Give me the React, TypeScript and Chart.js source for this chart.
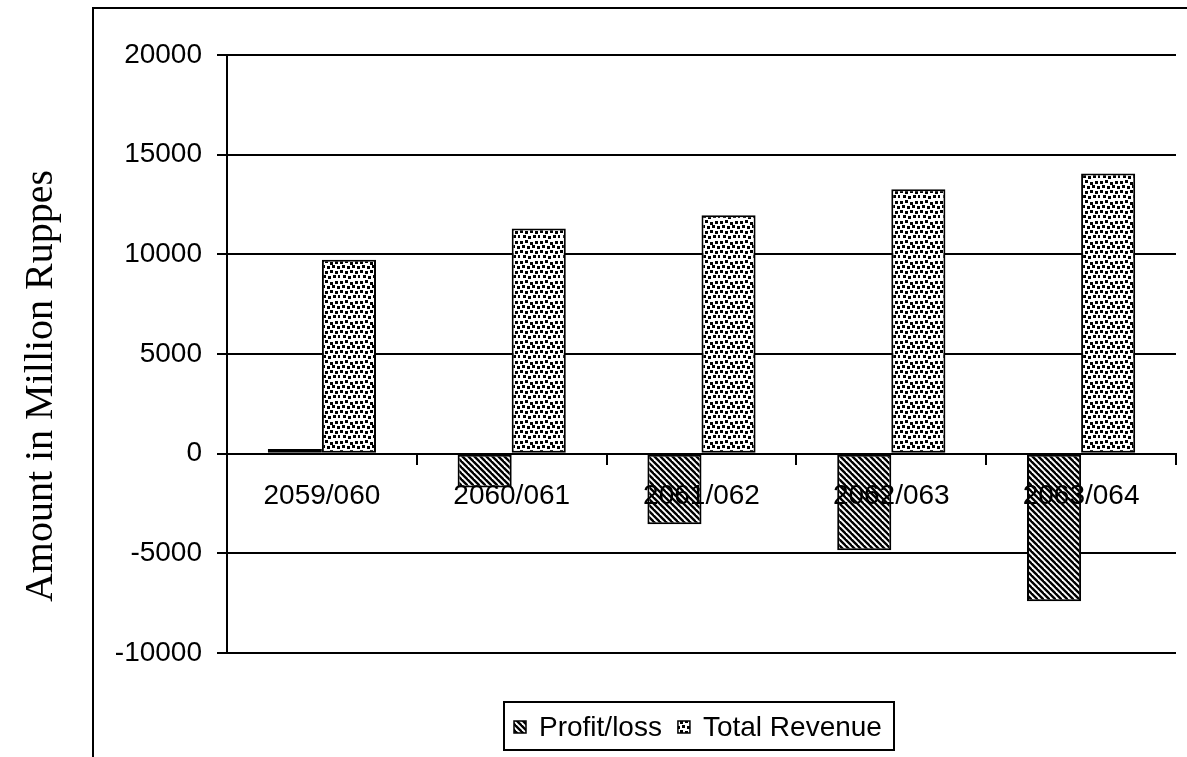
import React, { useEffect, useRef } from "react";
import { Chart, registerables } from "chart.js";

Chart.register(...registerables);

// Fiscal years and amounts (million rupees)
const categories = ["2059/060", "2060/061", "2061/062", "2062/063", "2063/064"];
const profitLoss = [240, -1700, -3540, -4840, -7400];
const totalRevenue = [9730, 11290, 11960, 13270, 14050];
const seriesNames = ["Profit/loss", "Total Revenue"];
const yMin = -10000;
const yMax = 20000;
const yStep = 5000;
const yTitle = "Amount in Million Ruppes";

const SANS = '"Liberation Sans", Arial, sans-serif';
const SERIF = '"Liberation Serif", "Times New Roman", serif';

// Diagonal "\" hatch used for the profit/loss bars
function makeStripePattern(ctx: CanvasRenderingContext2D): CanvasPattern {
  const size = 6;
  const tile = document.createElement("canvas");
  tile.width = size;
  tile.height = size;
  const t = tile.getContext("2d")!;
  t.fillStyle = "#fff";
  t.fillRect(0, 0, size, size);
  t.strokeStyle = "#000";
  t.lineWidth = 2.4;
  for (let k = -1; k <= 1; k++) {
    t.beginPath();
    t.moveTo(k * size - 1, -1);
    t.lineTo(k * size + size + 1, size + 1);
    t.stroke();
  }
  return ctx.createPattern(tile, "repeat")!;
}

// Speckled fill used for the revenue bars (fixed dot layout in a tile)
const DOTS: [number, number][] = [
  [0, 1], [5, 0], [10, 2], [15, 1],
  [2, 5], [7, 6], [12, 5], [17, 6],
  [0, 10], [5, 11], [10, 10], [15, 11],
  [3, 15], [8, 16], [13, 15], [18, 15],
];
function makeDotPattern(ctx: CanvasRenderingContext2D): CanvasPattern {
  const size = 20;
  const tile = document.createElement("canvas");
  tile.width = size;
  tile.height = size;
  const t = tile.getContext("2d")!;
  t.fillStyle = "#fff";
  t.fillRect(0, 0, size, size);
  t.fillStyle = "#000";
  for (const [x, y] of DOTS) t.fillRect(x, y, 3, 3);
  return ctx.createPattern(tile, "repeat")!;
}

const framePlugin = {
  id: "frameAndLegend",
  beforeDraw(chart: any) {
    const { ctx, width, height } = chart;
    ctx.save();
    ctx.fillStyle = "#fff";
    ctx.fillRect(0, 0, width, height);
    ctx.restore();
  },
  afterDraw(chart: any) {
    const ctx: CanvasRenderingContext2D = chart.ctx;
    ctx.save();
    // outer frame
    ctx.strokeStyle = "#000";
    ctx.lineWidth = 2;
    ctx.beginPath();
    ctx.moveTo(93, chart.height + 2);
    ctx.lineTo(93, 8);
    ctx.lineTo(chart.width + 2, 8);
    ctx.stroke();

    // axis title
    ctx.save();
    ctx.translate(52, 386);
    ctx.rotate(-Math.PI / 2);
    ctx.font = `40px ${SERIF}`;
    ctx.fillStyle = "#000";
    ctx.textAlign = "center";
    ctx.textBaseline = "alphabetic";
    ctx.fillText(yTitle, 0, 0);
    ctx.restore();

    // legend
    ctx.lineWidth = 2;
    ctx.strokeRect(504, 702, 390, 48);
    ctx.font = `28px ${SANS}`;
    ctx.textBaseline = "middle";
    ctx.fillStyle = "#000";
    let x = 514;
    const cy = 727;
    chart.data.datasets.forEach((ds: any) => {
      ctx.fillStyle = ds.backgroundColor;
      ctx.fillRect(x, cy - 6, 12, 12);
      ctx.lineWidth = 1.5;
      ctx.strokeRect(x, cy - 6, 12, 12);
      ctx.fillStyle = "#000";
      ctx.fillText(ds.label, x + 25, cy + 1);
      x += 25 + ctx.measureText(ds.label).width + 16;
    });
    ctx.restore();
  },
};

export default function App() {
  const canvasRef = useRef<HTMLCanvasElement | null>(null);

  useEffect(() => {
    const canvas = canvasRef.current!;
    const ctx = canvas.getContext("2d")!;
    const stripes = makeStripePattern(ctx);
    const dots = makeDotPattern(ctx);

    const chart = new Chart(canvas, {
      type: "bar",
      data: {
        labels: categories,
        datasets: [
          {
            label: seriesNames[0],
            data: profitLoss,
            backgroundColor: stripes as any,
            borderColor: "#000",
            borderWidth: 2,
            borderSkipped: false,
            categoryPercentage: 0.57,
            barPercentage: 1,
          },
          {
            label: seriesNames[1],
            data: totalRevenue,
            backgroundColor: dots as any,
            borderColor: "#000",
            borderWidth: 2,
            borderSkipped: false,
            categoryPercentage: 0.57,
            barPercentage: 1,
          },
        ],
      },
      options: {
        responsive: false,
        animation: false,
        events: [],
        layout: { padding: { top: 55, bottom: 104, right: 11, left: 0 } },
        plugins: {
          legend: { display: false },
          tooltip: { enabled: false },
          title: { display: false },
        },
        scales: {
          x: {
            position: { y: 0 } as any,
            offset: true,
            grid: {
              display: true,
              offset: true,
              drawOnChartArea: false,
              drawTicks: true,
              tickLength: 10,
              color: "#000",
              lineWidth: 2,
              z: 1,
            },
            border: { display: true, color: "#000", width: 2, z: 1 },
            ticks: {
              z: 1,
              color: "#000",
              font: { family: SANS, size: 28 },
              padding: 16,
              autoSkip: false,
              maxRotation: 0,
              minRotation: 0,
            },
          },
          y: {
            min: yMin,
            max: yMax,
            afterFit: (scale: any) => {
              scale.width = 227;
            },
            grid: {
              color: "#000",
              lineWidth: 2,
              drawTicks: true,
              tickLength: 10,
            },
            border: { display: true, color: "#000", width: 2 },
            ticks: {
              stepSize: yStep,
              color: "#000",
              font: { family: SANS, size: 28 },
              padding: 15,
              callback: (v: any) => String(v),
            },
          },
        },
      },
      plugins: [framePlugin],
    });
    return () => chart.destroy();
  }, []);

  return (
    <div style={{ position: "fixed", left: 0, top: 0, width: 1187, height: 757, background: "#fff" }}>
      <canvas ref={canvasRef} width={1187} height={757} style={{ display: "block" }} />
    </div>
  );
}
